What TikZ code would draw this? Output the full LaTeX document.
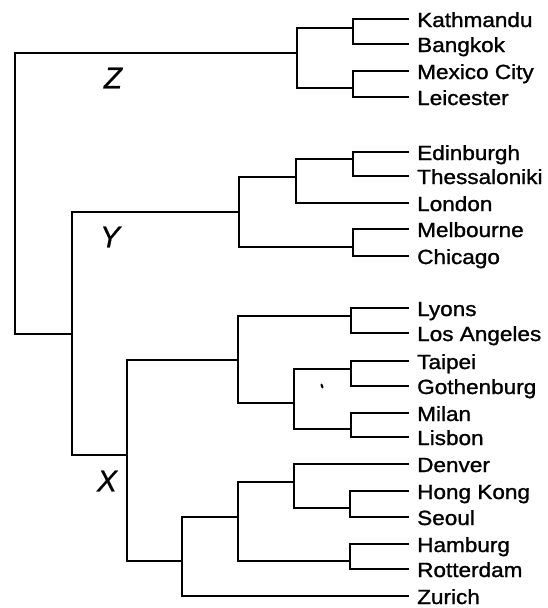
\documentclass[tikz,border=0pt]{standalone}
\usepackage{fontspec}
\setmainfont{Liberation Sans}
\newfontfamily\leaffont{Liberation Sans}[FakeStretch=1.1,FakeBold=1.2]
\newfontfamily\clusterfont{Liberation Sans}[FakeBold=0.6]
\begin{document}
\begin{tikzpicture}[x=1pt,y=-1pt,
  branch/.style={line width=1.6pt,line cap=rect,line join=miter},
  leaflabel/.style={anchor=base west,inner sep=0pt,font=\leaffont\fontsize{20.5}{24}\selectfont},
  clusterlabel/.style={inner sep=0pt,font=\clusterfont\itshape\fontsize{30}{33}\selectfont}]
\useasboundingbox (0,0) rectangle (547,608);
% leaves: line end coordinates and labels
\foreach \nm/\txt/\yy in {kat/Kathmandu/19,ban/Bangkok/44,mex/Mexico City/71,lei/Leicester/97,
  edi/Edinburgh/152,the/Thessaloniki/176,lon/London/203,mel/Melbourne/229,chi/Chicago/256,
  lyo/Lyons/308,los/Los Angeles/333,tai/Taipei/361,got/Gothenburg/386,mil/Milan/413,lis/Lisbon/437,
  den/Denver/464,hon/Hong Kong/491,seo/Seoul/517,ham/Hamburg/544,rot/Rotterdam/569,zur/Zurich/596}{
  \coordinate (\nm) at (408,\yy);
  \node[leaflabel] (\nm-t) at (417,\yy+8) {\txt};
}
% internal junctions (x of vertical, y of attachment)
\coordinate (kb) at (353,28);
\coordinate (ml) at (353,88);
\coordinate (zn) at (297,53);
\coordinate (root) at (15,334);
\coordinate (yn) at (72,334);
\coordinate (ysub) at (239,212);
\coordinate (et) at (353,159);
\coordinate (etl) at (296,177);
\coordinate (mc) at (353,247);
\coordinate (xn) at (127,455);
\coordinate (lg) at (238,360);
\coordinate (la) at (351,316);
\coordinate (tgml) at (294,403);
\coordinate (tg) at (351,369);
\coordinate (mli) at (351,429);
\coordinate (zu) at (182,561);
\coordinate (dh) at (238,517);
\coordinate (dhs) at (294,482);
\coordinate (hs) at (350,508);
\coordinate (hr) at (350,561);
% branches
\draw[branch] (kat) -| (kb) |- (ban);
\draw[branch] (mex) -| (ml) |- (lei);
\draw[branch] (kb) -| (zn) |- (ml);
\draw[branch] (zn) -| (root) |- (yn);
\draw[branch] (edi) -| (et) |- (the);
\draw[branch] (et) -| (etl) |- (lon);
\draw[branch] (mel) -| (mc) |- (chi);
\draw[branch] (etl) -| (ysub) |- (mc);
\draw[branch] (ysub) -| (yn) |- (xn);
\draw[branch] (lyo) -| (la) |- (los);
\draw[branch] (tai) -| (tg) |- (got);
\draw[branch] (mil) -| (mli) |- (lis);
\draw[branch] (tg) -| (tgml) |- (mli);
\draw[branch] (la) -| (lg) |- (tgml);
\draw[branch] (lg) -| (xn) |- (zu);
\draw[branch] (hon) -| (hs) |- (seo);
\draw[branch] (den) -| (dhs) |- (hs);
\draw[branch] (ham) -| (hr) |- (rot);
\draw[branch] (dhs) -| (dh) |- (hr);
\draw[branch] (dh) -| (zu) |- (zur);
% cluster labels
\node[clusterlabel] (labZ) at (113,78) {Z};
\node[clusterlabel] (labY) at (110,237) {Y};
\node[clusterlabel] (labX) at (107,481) {X};
% small speck
\fill[rotate around={20:(322,386)}] (322,386) ellipse (1.2pt and 2.6pt);
\end{tikzpicture}
\end{document}
